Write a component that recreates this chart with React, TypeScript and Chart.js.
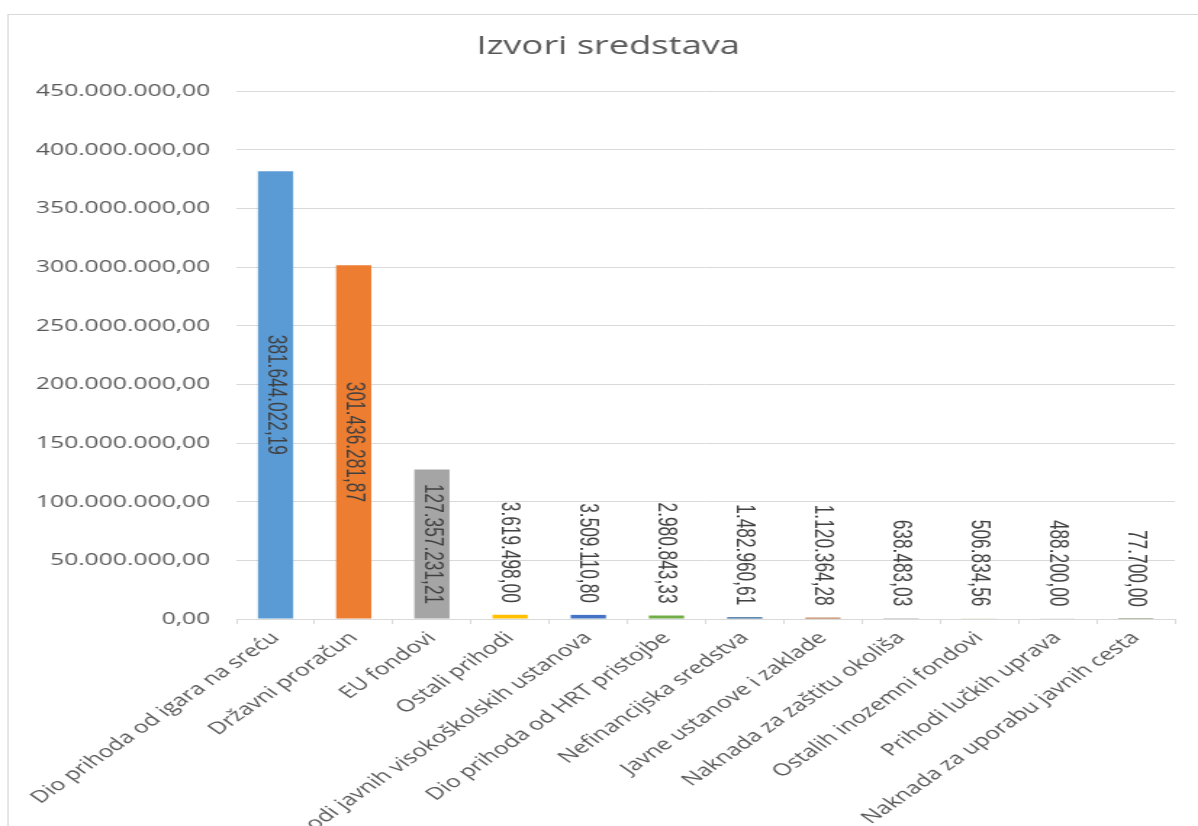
import React, { useEffect, useRef } from "react";
import { Chart, registerables } from "chart.js";

Chart.register(...registerables);

const TITLE = "Izvori sredstava";

const categories: string[] = [
  "Dio prihoda od igara na sreću",
  "Državni proračun",
  "EU fondovi",
  "Ostali prihodi",
  "Prihodi javnih visokoškolskih ustanova",
  "Dio prihoda od HRT pristojbe",
  "Nefinancijska sredstva",
  "Javne ustanove i zaklade",
  "Naknada za zaštitu okoliša",
  "Ostalih inozemni fondovi",
  "Prihodi lučkih uprava",
  "Naknada za uporabu javnih cesta",
];

const values: number[] = [
  381644022.19, 301436281.87, 127357231.21, 3619498.0, 3509110.8, 2980843.33,
  1482960.61, 1120364.28, 638483.03, 506834.56, 488200.0, 77700.0,
];

const barColors: string[] = [
  "#5B9BD5", "#ED7D31", "#A5A5A5", "#FFC000", "#4472C4", "#70AD47",
  "#255E91", "#9E480E", "#636363", "#997300", "#264478", "#43682B",
];

const yMax = 450000000;
const yStep = 50000000;

// The reference image is horizontally stretched; render narrow and stretch with CSS.
const OUT_W = 1198;
const OUT_H = 826;
const STRETCH = 1.45;
const CW = Math.round(OUT_W / STRETCH);
const CH = OUT_H;

function fmt(v: number): string {
  const fixed = Math.abs(v).toFixed(2);
  const [intPart, dec] = fixed.split(".");
  const grouped = intPart.replace(/\B(?=(\d{3})+(?!\d))/g, ".");
  return (v < 0 ? "-" : "") + grouped + "," + dec;
}

const framePlugin = {
  id: "frameAndTitle",
  beforeDraw(chart: any) {
    const ctx = chart.ctx;
    ctx.save();
    ctx.fillStyle = "#ffffff";
    ctx.fillRect(0, 0, chart.width, chart.height);
    ctx.strokeStyle = "#d9d9d9";
    ctx.lineWidth = 1;
    ctx.strokeRect(5.5, 14.5, chart.width + 20, chart.height + 20);
    ctx.restore();
  },
  afterDraw(chart: any) {
    const ctx = chart.ctx;
    ctx.save();
    ctx.font = '25px "Open Sans"';
    ctx.fillStyle = "#595959";
    ctx.textAlign = "center";
    ctx.textBaseline = "middle";
    ctx.fillText(TITLE, 608 / STRETCH, 47);
    ctx.restore();
  },
};

const dataLabelPlugin = {
  id: "barValueLabels",
  afterDatasetsDraw(chart: any) {
    const ctx = chart.ctx;
    const meta = chart.getDatasetMeta(0);
    const s = 0.91;
    ctx.save();
    ctx.font = '19px "Liberation Sans"';
    ctx.fillStyle = "#404040";
    ctx.textBaseline = "middle";
    meta.data.forEach((bar: any, i: number) => {
      const { x, y, base } = bar.getProps(["x", "y", "base"], true);
      const text = fmt(values[i]);
      const len = ctx.measureText(text).width * s;
      ctx.save();
      if (base - y > len + 20) {
        ctx.translate(x, (y + base) / 2);
        ctx.rotate(Math.PI / 2);
        ctx.scale(s, 1);
        ctx.textAlign = "center";
      } else {
        ctx.translate(x, y - 12);
        ctx.rotate(Math.PI / 2);
        ctx.scale(s, 1);
        ctx.textAlign = "right";
      }
      ctx.fillText(text, 0, 0);
      ctx.restore();
    });
    ctx.restore();
  },
};

export default function App() {
  const canvasRef = useRef<HTMLCanvasElement | null>(null);

  useEffect(() => {
    if (!canvasRef.current) return;
    const chart = new Chart(canvasRef.current, {
      type: "bar",
      data: {
        labels: categories,
        datasets: [
          {
            data: values,
            backgroundColor: barColors,
            borderWidth: 0,
            barPercentage: 0.45,
            categoryPercentage: 1,
          },
        ],
      },
      options: {
        responsive: false,
        animation: false,
        devicePixelRatio: 1,
        layout: { padding: { top: 91, right: 16, bottom: 0, left: 0 } },
        plugins: {
          legend: { display: false },
          title: { display: false },
          tooltip: { enabled: false },
        },
        scales: {
          x: {
            offset: true,
            grid: {
              display: true,
              drawOnChartArea: false,
              drawTicks: true,
              tickLength: 5,
              color: "#d9d9d9",
              offset: true,
            },
            border: { display: true, color: "#d9d9d9" },
            ticks: {
              autoSkip: false,
              minRotation: 45,
              maxRotation: 45,
              padding: 4,
              color: "#595959",
              font: { family: '"Open Sans"', size: 17 },
            },
            afterFit: (scale: any) => {
              scale.height = CH - 619;
              scale.paddingLeft = 0;
              scale.paddingRight = 0;
            },
          },
          y: {
            min: 0,
            max: yMax,
            grid: { color: "#d9d9d9", drawTicks: false },
            border: { display: false },
            ticks: {
              stepSize: yStep,
              padding: 18,
              color: "#595959",
              font: { family: '"Open Sans"', size: 17 },
              callback: (v: any) => fmt(Number(v)),
            },
            afterFit: (scale: any) => {
              scale.width = 163;
              scale.paddingTop = 0;
              scale.paddingBottom = 0;
            },
          },
        },
      },
      plugins: [framePlugin, dataLabelPlugin],
    });
    return () => chart.destroy();
  }, []);

  return (
    <div style={{ position: "absolute", left: 0, top: 0, width: OUT_W, height: OUT_H, overflow: "hidden", background: "#fff" }}>
      <canvas
        ref={canvasRef}
        width={CW}
        height={CH}
        style={{ width: OUT_W + "px", height: OUT_H + "px", display: "block" }}
      />
    </div>
  );
}
